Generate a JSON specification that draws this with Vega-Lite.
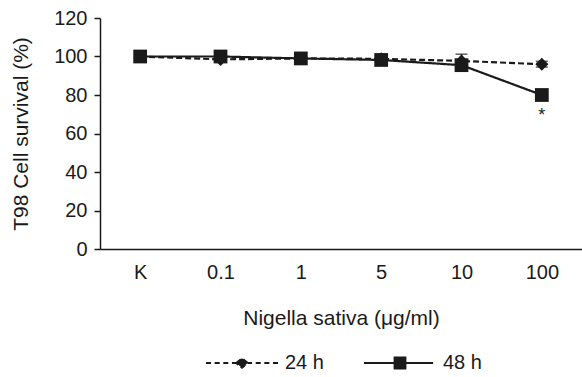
{
  "$schema": "https://vega.github.io/schema/vega-lite/v6.json",
  "autosize": {"type": "none"},
  "padding": {"left": 100, "top": 18, "right": 0, "bottom": 128},
  "width": 482,
  "height": 231,
  "config": {
    "view": {"stroke": null},
    "font": "Liberation Sans",
    "axis": {"grid": false, "domainColor": "#1a1a1a", "tickColor": "#1a1a1a", "labelColor": "#1a1a1a", "titleColor": "#1a1a1a", "labelFontSize": 20, "titleFontSize": 21, "titleFontWeight": "normal", "domainWidth": 1.5, "tickWidth": 1.5}
  },
  "data": {
    "values": [
      {"dose": "K", "series": "24 h", "value": 100, "err": 0},
      {"dose": "0.1", "series": "24 h", "value": 98.5, "err": 1},
      {"dose": "1", "series": "24 h", "value": 99, "err": 1},
      {"dose": "5", "series": "24 h", "value": 98.8, "err": 1.5},
      {"dose": "10", "series": "24 h", "value": 97.7, "err": 3.5},
      {"dose": "100", "series": "24 h", "value": 96, "err": 1.5},
      {"dose": "K", "series": "48 h", "value": 100, "err": 0},
      {"dose": "0.1", "series": "48 h", "value": 100, "err": 0.5},
      {"dose": "1", "series": "48 h", "value": 99, "err": 0.5},
      {"dose": "5", "series": "48 h", "value": 98.2, "err": 0.5},
      {"dose": "10", "series": "48 h", "value": 95.5, "err": 1},
      {"dose": "100", "series": "48 h", "value": 80, "err": 0.5}
    ]
  },
  "encoding": {
    "x": {"field": "dose", "type": "ordinal", "sort": ["K", "0.1", "1", "5", "10", "100"], "scale": {"type": "point", "padding": 0.5},
      "axis": {"title": "Nigella sativa (μg/ml)", "labelAngle": 0, "ticks": false, "labelPadding": 13, "titlePadding": 25}},
    "y": {"field": "value", "type": "quantitative", "scale": {"domain": [0, 120]},
      "axis": {"title": "T98 Cell survival (%)", "values": [0, 20, 40, 60, 80, 100, 120], "tickSize": 6, "labelPadding": 7, "titlePadding": 22}}
  },
  "layer": [
    {
      "mark": {"type": "errorbar", "color": "#1a1a1a", "ticks": {"size": 12, "color": "#1a1a1a"}, "thickness": 1.5},
      "encoding": {"yError": {"field": "err"}, "detail": {"field": "series"}}
    },
    {
      "mark": {"type": "line", "strokeWidth": 2.2},
      "encoding": {
        "color": {"field": "series", "type": "nominal", "scale": {"range": ["#1a1a1a", "#1a1a1a"]},
          "legend": {"orient": "none", "legendX": 105, "legendY": 308, "direction": "horizontal", "title": null,
            "symbolSize": 5184, "symbolStrokeWidth": 2, "labelFontSize": 20, "labelColor": "#1a1a1a", "labelOffset": 6, "columnPadding": 36,
            "encode": {"symbols": {"update": {
              "shape": {"signal": "datum.value === '24 h' ? 'M-1,0H-0.86M-0.76,0H-0.62M-0.52,0H-0.38M-0.28,0H-0.16M-0.16,0L0,-0.13L0.16,0L0,0.13ZM0.16,0H0.28M0.38,0H0.52M0.62,0H0.76M0.86,0H1' : 'M-1,0H0.92M-0.15,-0.15H0.15V0.15H-0.15Z'"},
              "fill": {"value": "#1a1a1a"},
              "stroke": {"value": "#1a1a1a"},
              "strokeDash": {"value": []},
              "opacity": {"value": 1}
            }}}}},
        "strokeDash": {"field": "series", "type": "nominal", "scale": {"range": [[6, 3], [1, 0]]}, "legend": null}
      }
    },
    {
      "mark": {"type": "point", "filled": true, "opacity": 1, "color": "#1a1a1a"},
      "encoding": {
        "shape": {"field": "series", "type": "nominal", "scale": {"range": ["diamond", "square"]}, "legend": null},
        "size": {"field": "series", "type": "nominal", "scale": {"range": [170, 190]}, "legend": null},
        "order": {"field": "series"}
      }
    },
    {
      "transform": [{"filter": "datum.series === '48 h' && datum.dose === '100'"}],
      "mark": {"type": "text", "text": "*", "fontSize": 18, "dy": 21, "color": "#1a1a1a"}
    }
  ]
}
